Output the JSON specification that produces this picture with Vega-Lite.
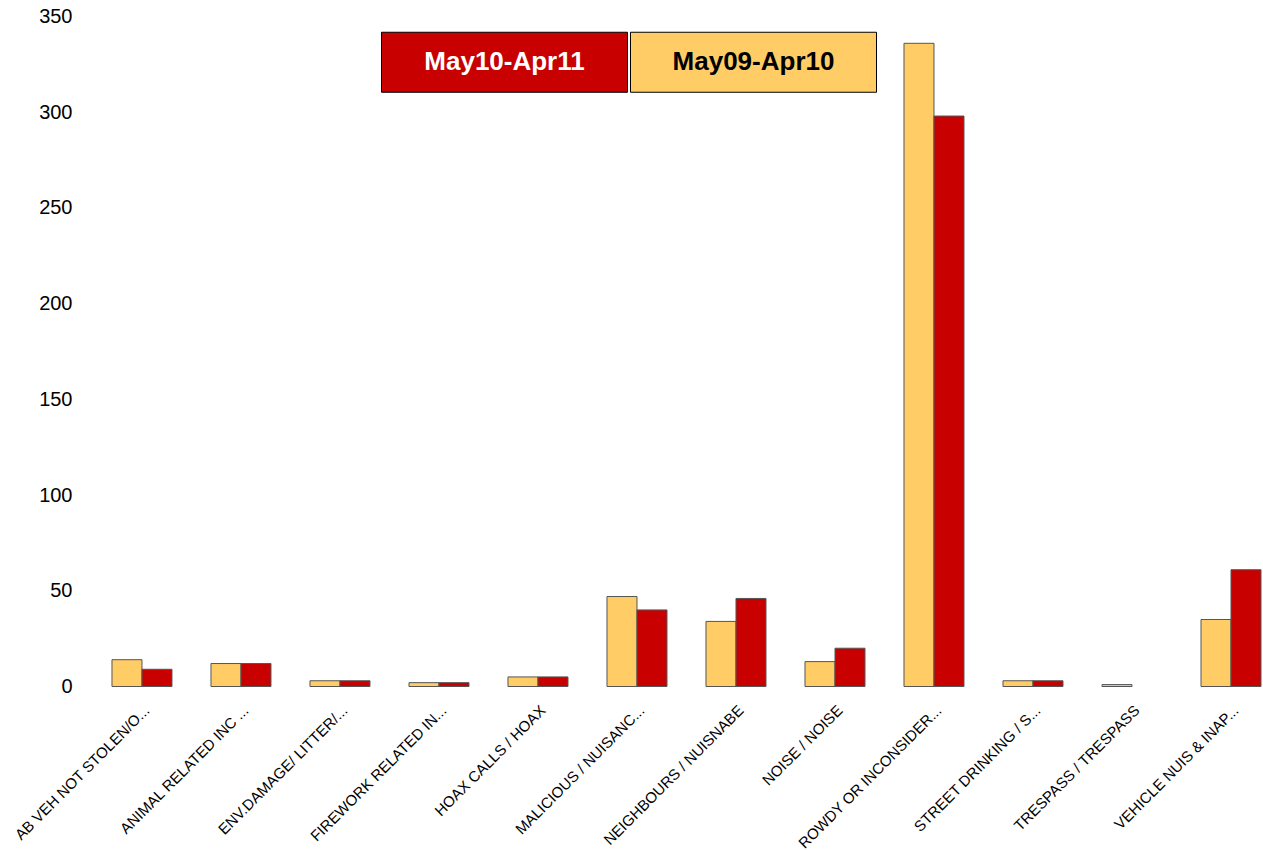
{
  "$schema": "https://vega.github.io/schema/vega-lite/v6.json",
  "width": 1171,
  "height": 670,
  "autosize": {"type": "none"},
  "padding": {"left": 92, "top": 16.5, "right": 0, "bottom": 164.5},
  "background": "white",
  "config": {"view": {"stroke": null}, "font": "Liberation Sans"},
  "data": {
    "values": [
      {"cat": "AB VEH NOT STOLEN/O...", "series": "May09-Apr10", "v": 14},
      {"cat": "AB VEH NOT STOLEN/O...", "series": "May10-Apr11", "v": 9},
      {"cat": "ANIMAL RELATED INC ...", "series": "May09-Apr10", "v": 12},
      {"cat": "ANIMAL RELATED INC ...", "series": "May10-Apr11", "v": 12},
      {"cat": "ENV.DAMAGE/ LITTER/...", "series": "May09-Apr10", "v": 3},
      {"cat": "ENV.DAMAGE/ LITTER/...", "series": "May10-Apr11", "v": 3},
      {"cat": "FIREWORK RELATED IN...", "series": "May09-Apr10", "v": 2},
      {"cat": "FIREWORK RELATED IN...", "series": "May10-Apr11", "v": 2},
      {"cat": "HOAX CALLS / HOAX", "series": "May09-Apr10", "v": 5},
      {"cat": "HOAX CALLS / HOAX", "series": "May10-Apr11", "v": 5},
      {"cat": "MALICIOUS / NUISANC...", "series": "May09-Apr10", "v": 47},
      {"cat": "MALICIOUS / NUISANC...", "series": "May10-Apr11", "v": 40},
      {"cat": "NEIGHBOURS / NUISNABE", "series": "May09-Apr10", "v": 34},
      {"cat": "NEIGHBOURS / NUISNABE", "series": "May10-Apr11", "v": 46},
      {"cat": "NOISE / NOISE", "series": "May09-Apr10", "v": 13},
      {"cat": "NOISE / NOISE", "series": "May10-Apr11", "v": 20},
      {"cat": "ROWDY OR INCONSIDER...", "series": "May09-Apr10", "v": 336},
      {"cat": "ROWDY OR INCONSIDER...", "series": "May10-Apr11", "v": 298},
      {"cat": "STREET DRINKING / S...", "series": "May09-Apr10", "v": 3},
      {"cat": "STREET DRINKING / S...", "series": "May10-Apr11", "v": 3},
      {"cat": "TRESPASS / TRESPASS", "series": "May09-Apr10", "v": 1},
      {"cat": "VEHICLE NUIS & INAP...", "series": "May09-Apr10", "v": 35},
      {"cat": "VEHICLE NUIS & INAP...", "series": "May10-Apr11", "v": 61}
    ]
  },
  "mark": {"type": "bar", "stroke": "#555555", "strokeWidth": 1},
  "encoding": {
    "x": {
      "field": "cat",
      "type": "nominal",
      "sort": null,
      "title": null,
      "scale": {"paddingInner": 0.394, "paddingOuter": 0.111, "align": 0.909},
      "axis": {
        "domain": false,
        "ticks": false,
        "tickSize": 0,
        "labelAngle": -45,
        "labelFontSize": 15,
        "labelColor": "black",
        "labelPadding": 16,
        "labelLimit": 400,
        "grid": false
      }
    },
    "xOffset": {
      "field": "series",
      "type": "nominal",
      "scale": {"domain": ["May09-Apr10", "May10-Apr11"], "paddingInner": 0, "paddingOuter": 0}
    },
    "y": {
      "field": "v",
      "type": "quantitative",
      "title": null,
      "scale": {"domain": [0, 350], "nice": false},
      "axis": {
        "domain": false,
        "ticks": false,
        "tickSize": 0,
        "grid": false,
        "values": [0, 50, 100, 150, 200, 250, 300, 350],
        "labelFontSize": 20,
        "labelColor": "black",
        "labelPadding": 20
      }
    },
    "fill": {
      "field": "series",
      "type": "nominal",
      "scale": {"domain": ["May09-Apr10", "May10-Apr11"], "range": ["#FFCC66", "#C80000"]},
      "legend": {
        "title": null,
        "orient": "none",
        "legendX": 289,
        "legendY": -78,
        "direction": "horizontal",
        "values": ["May10-Apr11", "May09-Apr10"],
        "symbolType": "M-1,-0.2439H1V0.2439H-1Z",
        "symbolSize": 60516,
        "symbolStrokeColor": "black",
        "symbolStrokeWidth": 1,
        "symbolOpacity": 1,
        "labelAlign": "center",
        "labelOffset": -123.5,
        "labelFontSize": 26,
        "labelFontWeight": "bold",
        "labelLimit": 400,
        "columnPadding": -3,
        "padding": 0,
        "encode": {
          "labels": {
            "update": {
              "fill": [
                {"test": "datum.label === 'May10-Apr11'", "value": "white"},
                {"value": "black"}
              ]
            }
          }
        }
      }
    }
  }
}
